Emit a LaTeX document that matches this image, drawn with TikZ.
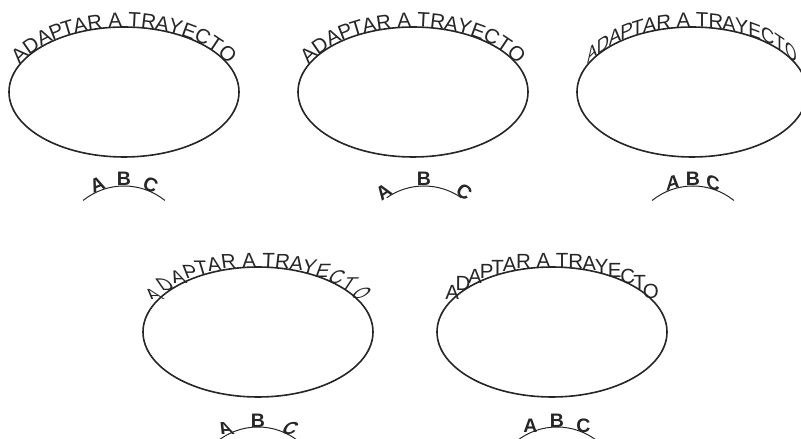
\documentclass[tikz,border=0pt]{standalone}
\usepackage{fontspec}
\setmainfont{Liberation Sans}
\usetikzlibrary{decorations.markings}
\newcount\chn
\newcommand\fsz{20.5}
\newcommand\topfont{\fontsize{20.5}{22}\selectfont}
\newcommand\abcfont{\fontsize{19.5}{21}\selectfont\bfseries}
% character / advance width (Arial metrics, with kerning of DA, PA, TA, AY)
\def\TOPTEXT{A/0.667,D/0.685,A/0.667,P/0.593,T/0.537,A/0.667,R/0.722,{}/0.278,A/0.667,{}/0.278,T/0.611,R/0.722,A/0.593,Y/0.667,E/0.667,C/0.722,T/0.611,O/0.778}
\def\TOPW{11.132}
\def\QUARTER{144.11}% quarter perimeter of the 115 x 65 ellipse
\newcommand\glyphname{\global\advance\chn by 1 }
% letters rotated along the path
\newcommand\placerot[2]{\glyphname\node[#1,transform shape] (g\the\chn) {#2};}
% upright letters
\newcommand\placeup[2]{\glyphname\node[#1] (g\the\chn) {#2};}
% vertical skew: baseline follows path, stems stay vertical
\newcommand\placevsk[2]{\glyphname\pgfgettransformentries{\ma}{\mb}{\mc}{\md}{\mx}{\my}\pgfsettransformentries{\ma}{\mb}{0}{1}{\mx}{\my}\node[#1,transform shape] (g\the\chn) {#2};}
% horizontal skew: baseline horizontal, stems follow the normal
\newcommand\placehsk[2]{\glyphname\pgfgettransformentries{\ma}{\mb}{\mc}{\md}{\mx}{\my}\pgfsettransformentries{1}{0}{\mc}{\md}{\mx}{\my}\node[#1,transform shape] (g\the\chn) {#2};}
\newcommand\ellipsetext[3]{%
  \draw[ell] (#1,#2) ellipse[x radius=115, y radius=65];
  \pgfmathsetmacro\tstart{\QUARTER - \TOPW*\fsz/2}%
  \gdef\cum{0}%
  \foreach \ch/\cw in \TOPTEXT {%
    \pgfmathsetmacro\pos{\tstart+\cum+\cw*\fsz/2}%
    \path[decoration={markings,mark=at position \pos pt with {#3{chrtop}{\ch}}},decorate]
      ({#1-115},#2) arc[start angle=180,end angle=-180,x radius=115,y radius=65];
    \pgfmathsetmacro\nc{\cum+\cw*\fsz}\xdef\cum{\nc}%
  }%
}
\newcommand\abcrow[8]{%
  \draw[arcl] ({#1+65*cos(#3)},{#2+65*sin(#3)}) arc[start angle=#3,end angle=#4,radius=65];
  \path[decoration={markings,
      mark=at position #6pt with {#5{chrabc}{A}},
      mark=at position #7pt with {#5{chrabc}{B}},
      mark=at position #8pt with {#5{chrabc}{C}}},decorate]
    ({#1+65*cos(#3)},{#2+65*sin(#3)}) arc[start angle=#3,end angle=#4,radius=65];
}
\begin{document}
\begin{tikzpicture}[x=1pt,y=1pt,
  ell/.style={line width=1.6pt,draw=black!85},
  arcl/.style={line width=1pt,draw=black!85},
  chrtop/.style={anchor=base,inner sep=0pt,outer sep=0pt,font=\topfont,text=black!85},
  chrabc/.style={anchor=base,inner sep=0pt,outer sep=0pt,font=\abcfont,text=black!85}]
\useasboundingbox (0,0) rectangle (801,439);
\clip (0,0) rectangle (801,439);
\ellipsetext{124}{347}{\placerot}
\ellipsetext{413}{347}{\placerot}
\ellipsetext{692}{347}{\placevsk}
\ellipsetext{258}{107}{\placehsk}
\ellipsetext{552}{107}{\placeup}
\abcrow{124}{188}{129}{51}{\placerot}{19.6}{44.25}{68.9}
\abcrow{424}{188}{125}{55}{\placerot}{1}{39.7}{78.4}
\abcrow{693}{188}{129}{51}{\placevsk}{23.75}{44.25}{64.75}
\abcrow{258}{-53}{129}{51}{\placehsk}{13.65}{44.25}{74.85}
\abcrow{557}{-53}{129}{51}{\placeup}{16.95}{44.25}{71.55}
\end{tikzpicture}
\end{document}
